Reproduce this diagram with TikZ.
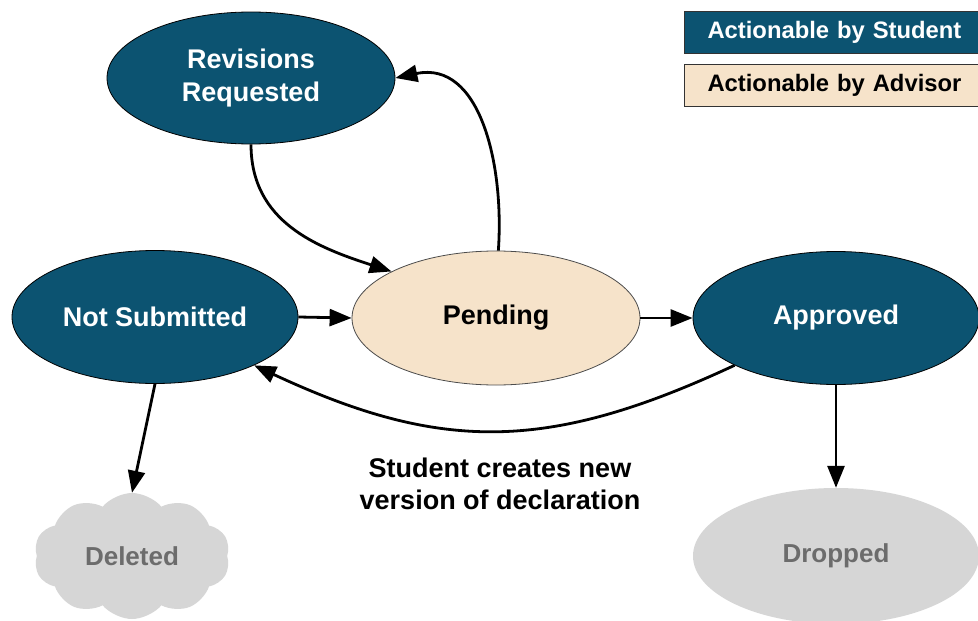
\documentclass[tikz,border=0pt]{standalone}
\usepackage{fontspec}
\setmainfont{Liberation Sans}
\usetikzlibrary{shapes.geometric,shapes.symbols,arrows.meta}
\definecolor{teal}{HTML}{0C5371}
\definecolor{beige}{HTML}{F6E3CA}
\definecolor{cloudgray}{HTML}{D6D6D6}
\definecolor{gtext}{HTML}{6C6C6C}
\tikzset{
  stud/.style={ellipse,draw=black,line width=0.8pt,fill=teal,text=white,font=\fontsize{27}{33}\selectfont\bfseries,align=center,minimum width=286pt,minimum height=133pt,inner sep=0pt},
  adv/.style={ellipse,draw=black!70,line width=0.8pt,fill=beige,text=black,font=\fontsize{27}{33}\selectfont\bfseries,minimum width=288pt,minimum height=134pt,inner sep=0pt},
  gone/.style={fill=cloudgray,text=gtext,font=\fontsize{26}{30}\selectfont\bfseries,inner sep=0pt},
  conn/.style={line width=2.8pt,-{Triangle[length=22pt,width=17pt]}},
  legbox/.style={draw=black!80,line width=1pt,minimum height=42pt,minimum width=300pt,anchor=north west,text width=254pt,align=left,font=\fontsize{23.8}{28}\selectfont\bfseries}
}
\begin{document}
\begin{tikzpicture}[x=1pt,y=-1pt]
\useasboundingbox (0,0) rectangle (978,621);
\fill[white] (0,0) rectangle (978,621);
% legend
\node[legbox,fill=teal,text=white] (legS) at (684,11) {Actionable by Student};
\node[legbox,fill=beige,text=black] (legA) at (684,64) {Actionable by Advisor};
% states
\node[stud,minimum width=288pt,minimum height=132pt] (rev) at (251,78) {\raisebox{-3pt}{\begin{tabular}{@{}c@{}}Revisions\\Requested\end{tabular}}};
\node[stud] (ns) at (155,317) {Not Submitted};
\node[adv] (pend) at (496,318) {Pending};
\node[stud] (appr) at (836,318) {Approved};
\node[gone,cloud,cloud puffs=10,cloud puff arc=100,aspect=1.6,minimum width=196pt,minimum height=126pt] (del) at (132,556) {Deleted};
\node[gone,ellipse,minimum width=286pt,minimum height=136pt] (drop) at (836,556) {\raisebox{-3pt}{Dropped}};
\node[font=\fontsize{27}{32}\selectfont\bfseries,align=center] (lab) at (500,484) {Student creates new\\version of declaration};
% connectors
\draw[conn] (rev.south) to[out=-90,in=162,looseness=1.05] (pend.156);
\draw[conn] (pend.88) to[out=86,in=12,looseness=1.1] (rev.east);
\draw[conn] (ns.east) -- (pend.west);
\draw[conn] (pend.east) -- (appr.west);
\draw[conn] (appr.205) to[out=205,in=-25,looseness=1.1] (ns.334);
\draw[conn] (ns.south) -- (del.north);
\draw[conn] (appr.south) -- (drop.north);
\end{tikzpicture}
\end{document}
